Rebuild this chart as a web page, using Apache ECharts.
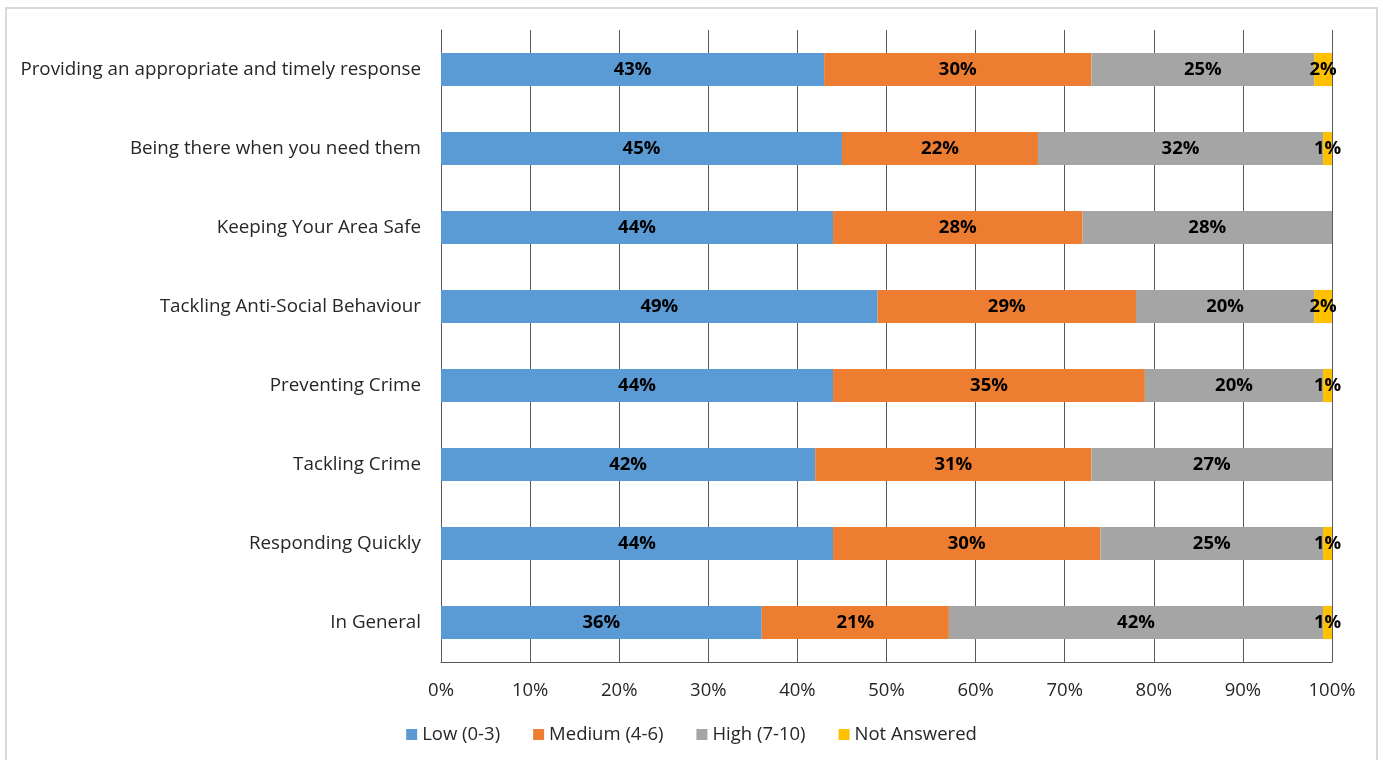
<!DOCTYPE html>
<html>
<head>
<meta charset="utf-8">
<script src="https://cdn.jsdelivr.net/npm/echarts@6/dist/echarts.min.js"></script>
<style>
html,body{margin:0;padding:0;background:#fff;}
#chart{width:1383px;height:760px;}
</style>
</head>
<body>
<div id="chart"></div>
<script>
const categories = ["In General","Responding Quickly","Tackling Crime","Preventing Crime","Tackling Anti-Social Behaviour","Keeping Your Area Safe","Being there when you need them","Providing an appropriate and timely response"];
const seriesNames = ["Low (0-3)","Medium (4-6)","High (7-10)","Not Answered"];
const lowValues = [36,44,42,44,49,44,45,43];
const mediumValues = [21,30,31,35,29,28,22,30];
const highValues = [42,25,27,20,20,28,32,25];
const notAnsweredValues = [1,1,0,1,2,0,1,2];
const xTickLabels = ["0%","10%","20%","30%","40%","50%","60%","70%","80%","90%","100%"];
const colors = ["#5b9bd5","#ed7d31","#a5a5a5","#ffc000"];

const FONT = "Open Sans";
const chart = echarts.init(document.getElementById('chart'));
const allData = [lowValues, mediumValues, highValues, notAnsweredValues];
chart.setOption({
  animation:false,
  textStyle:{fontFamily:FONT},
  graphic:[{type:'rect',shape:{x:6,y:8,width:1371,height:800},style:{fill:'none',stroke:'#d9d9d9',lineWidth:2}}],
  grid:{left:441,right:51,top:30,bottom:98},
  legend:{
    bottom:11,left:'center',itemWidth:11,itemHeight:11,itemGap:33,itemTextGap:5,
    icon:'rect',
    textStyle:{fontSize:18.5,color:'#262626',fontFamily:FONT},
    data:seriesNames
  },
  xAxis:{
    type:'value',min:0,max:100,interval:10,
    axisLine:{show:true,lineStyle:{color:'#595959'}},
    axisTick:{show:false},
    splitLine:{show:true,lineStyle:{color:'#595959',width:1}},
    axisLabel:{formatter:v=>xTickLabels[Math.round(v/10)],fontSize:18.5,color:'#262626',margin:19}
  },
  yAxis:{
    type:'category',data:categories,
    axisLine:{show:true,lineStyle:{color:'#595959'}},
    axisTick:{show:false},
    axisLabel:{fontSize:18.8,color:'#262626',margin:20}
  },
  series: seriesNames.map((n,i)=>({
    name:n,type:'bar',stack:'total',barWidth:'42%',
    itemStyle:{color:colors[i]},
    label:{show:true,position:'inside',fontSize:18.5,fontWeight:'bold',color:'#000',fontFamily:FONT,
      formatter:p=>p.value>0?p.value+'%':''},
    data:allData[i]
  }))
});
</script>
</body>
</html>
